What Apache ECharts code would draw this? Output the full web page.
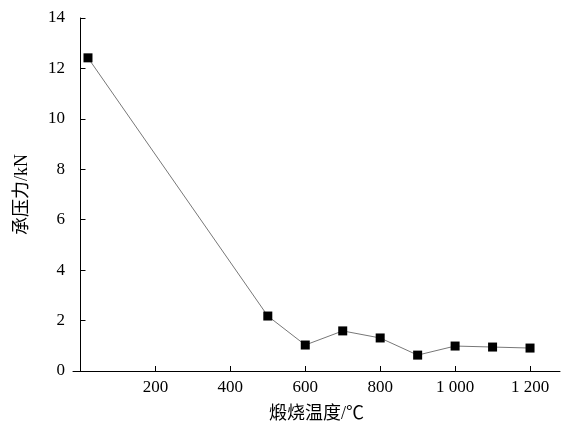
<!DOCTYPE html>
<html><head><meta charset="utf-8">
<script src="https://cdn.jsdelivr.net/npm/echarts@6/dist/echarts.min.js"></script>
<style>html,body{margin:0;padding:0;background:#fff}#c{width:574px;height:448px}</style>
</head><body><div id="c"></div>
<script>
var temps=[20,500,600,700,800,900,1000,1100,1200];
var loads=[12.42,2.18,1.03,1.59,1.31,0.63,0.99,0.95,0.91];
var xTicks=[200,400,600,800,1000,1200];
var ch=echarts.init(document.getElementById('c'));
var F='Liberation Serif, Noto Sans CJK SC, serif';
ch.setOption({
 animation:false,
 grid:{left:73,right:14,top:18,bottom:77,outerBoundsMode:'none',containLabel:false},
 xAxis:{type:'value',min:-20,max:1280,name:'煅烧温度/℃',nameLocation:'middle',nameGap:34,
  nameTextStyle:{fontFamily:F,fontSize:18,color:'#000'},
  axisLine:{lineStyle:{color:'#000'}},splitLine:{show:false},
  axisTick:{inside:true,customValues:xTicks,lineStyle:{color:'#000'}},
  axisLabel:{customValues:xTicks,fontFamily:F,fontSize:17,color:'#000',
   formatter:function(v){return v>=1000?Math.floor(v/1000)+' '+String(v%1000).padStart(3,'0'):String(v);}}},
 yAxis:{type:'value',min:0,max:14,interval:2,name:'承压力/kN',nameLocation:'middle',nameGap:42,
  nameTextStyle:{fontFamily:F,fontSize:18,color:'#000'},
  axisLine:{show:true,lineStyle:{color:'#000'}},splitLine:{show:false},
  axisTick:{inside:true,lineStyle:{color:'#000'}},
  axisLabel:{fontFamily:F,fontSize:17,color:'#000'}},
 series:[{type:'line',data:temps.map(function(t,i){return [t,loads[i]];}),
  symbol:'rect',symbolSize:9,itemStyle:{color:'#000'},lineStyle:{color:'#777',width:1}}]
});
</script></body></html>
